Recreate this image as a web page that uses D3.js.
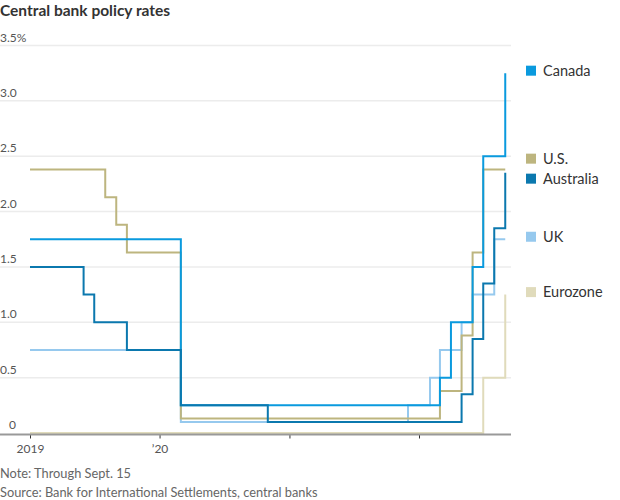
<!DOCTYPE html>
<html>
<head>
<meta charset="utf-8">
<script src="https://cdn.jsdelivr.net/npm/d3@7"></script>
<style>
	body { margin: 0; background: #fff; }
	text { font-family: Lato, "Open Sans", sans-serif; }
</style>
</head>
<body>
<div id="container"></div>
<script>
// Monthly change points, value in effect that month (step after)
const canada = [["2019-01", 1.75], ["2020-03", 0.25], ["2022-03", 0.5], ["2022-04", 1.0], ["2022-06", 1.5], ["2022-07", 2.5], ["2022-09", 3.25]]
const us = [["2019-01", 2.38], ["2019-08", 2.13], ["2019-09", 1.88], ["2019-10", 1.63], ["2020-03", 0.13], ["2022-03", 0.38], ["2022-05", 0.88], ["2022-06", 1.63], ["2022-07", 2.38], ["2022-09", 2.38]]
const australia = [["2019-01", 1.5], ["2019-06", 1.25], ["2019-07", 1.0], ["2019-10", 0.75], ["2020-03", 0.25], ["2020-11", 0.1], ["2022-05", 0.35], ["2022-06", 0.85], ["2022-07", 1.35], ["2022-08", 1.85], ["2022-09", 2.35]]
const uk = [["2019-01", 0.75], ["2020-03", 0.1], ["2021-12", 0.25], ["2022-02", 0.5], ["2022-03", 0.75], ["2022-05", 1.0], ["2022-06", 1.25], ["2022-08", 1.75], ["2022-09", 1.75]]
const eurozone = [["2019-01", 0], ["2022-07", 0.5], ["2022-09", 1.25]]

const seriesNames = ["Canada", "U.S.", "Australia", "UK", "Eurozone"]
const seriesData = [canada, us, australia, uk, eurozone]
const colors = ["#0a9ade", "#bdb57f", "#0b78ae", "#96c9ee", "#e0dbbb"]
// which one sits on top
const drawOrder = ["Eurozone", "UK", "U.S.", "Canada", "Australia"]

const yTicks = [0, 0.5, 1.0, 1.5, 2.0, 2.5, 3.0, 3.5]
const yTickLabels = ["0", "0.5", "1.0", "1.5", "2.0", "2.5", "3.0", "3.5%"]
const xTicks = ["2019-01-01", "2020-01-01", "2021-01-01", "2022-01-01"]
const xTickLabels = ["2019", "\u201920", "", ""]

const width = 620
const height = 500
const parseMonth = d3.timeParse("%Y-%m")
const parseDay = d3.timeParse("%Y-%m-%d")

const x = d3.scaleTime()
	.domain([parseDay("2019-01-01"), parseDay("2022-01-01")])
	.range([30, 419])

const y = d3.scaleLinear()
	.domain([0, 3.5])
	.range([433, 45.5])

const svg = d3.select("#container")
	.append("svg")
	.attr("width", width)
	.attr("height", height)

// title
svg.append("text")
	.attr("x", 0)
	.attr("y", 16)
	.style("font-size", "15.5px")
	.style("font-weight", "bold")
	.style("fill", "#333")
	.text("Central bank policy rates")

// gridlines + y labels
const yAxis = svg.append("g")
yAxis.selectAll("line")
	.data(yTicks.filter(d => d > 0))
	.join("line")
	.attr("x1", 0)
	.attr("x2", 511)
	.attr("y1", d => y(d))
	.attr("y2", d => y(d))
	.style("stroke", "#ececec")
	.style("stroke-width", 1.5)

yAxis.selectAll("text")
	.data(yTicks)
	.join("text")
	.attr("x", (d, i) => i === 0 ? 9 : 0)
	.attr("y", d => y(d) - 4)
	.style("font-size", "12px")
	.style("fill", "#555")
	.text((d, i) => yTickLabels[i])

// lines
const line = d3.line()
	.x(d => x(parseMonth(d[0])))
	.y(d => y(d[1]))
	.curve(d3.curveStepAfter)

svg.append("g")
	.selectAll("path")
	.data(drawOrder)
	.join("path")
	.attr("d", name => line(seriesData[seriesNames.indexOf(name)]))
	.style("fill", "none")
	.style("stroke", name => colors[seriesNames.indexOf(name)])
	.style("stroke-width", 2)

// x axis
const xAxis = d3.axisBottom(x)
	.tickValues(xTicks.map(parseDay))
	.tickFormat((d, i) => xTickLabels[i])
	.tickSize(4)
	.tickPadding(6)

const xg = svg.append("g")
	.attr("transform", "translate(0,434.5)")
	.call(xAxis)
xg.select(".domain").remove()
xg.selectAll(".tick line").style("stroke", "#333")
xg.selectAll(".tick text")
	.style("font-size", "12px")
	.style("fill", "#555")
	.style("font-family", "Lato, sans-serif")
xg.append("line")
	.attr("x1", 0)
	.attr("x2", 511)
	.style("stroke", "#999")
	.style("stroke-width", 2)

// legend, labels at line end, pushed apart when they collide
const labels = seriesNames.map((name, i) => {
	const d = seriesData[i]
	return { name, color: colors[i], pos: y(d[d.length - 1][1]) - 2.5 }
}).sort((a, b) => a.pos - b.pos)
for (let k = 0; k < 20; k++) {
	for (let i = 1; i < labels.length; i++) {
		const gap = labels[i].pos - labels[i - 1].pos
		if (gap < 20) {
			const shift = (20 - gap) / 2
			labels[i - 1].pos -= shift
			labels[i].pos += shift
		}
	}
}

const legend = svg.append("g")
	.selectAll("g")
	.data(labels)
	.join("g")
	.attr("transform", d => `translate(526,${d.pos})`)
legend.append("rect")
	.attr("y", -5)
	.attr("width", 10)
	.attr("height", 10)
	.style("fill", d => d.color)
legend.append("text")
	.attr("x", 17)
	.attr("dy", "0.35em")
	.style("font-size", "14.5px")
	.style("fill", "#333")
	.text(d => d.name)

// notes
svg.append("text")
	.attr("x", 0)
	.attr("y", 478)
	.style("font-size", "12.8px")
	.style("fill", "#666")
	.text("Note: Through Sept. 15")
svg.append("text")
	.attr("x", 0)
	.attr("y", 497)
	.style("font-size", "12.8px")
	.style("fill", "#666")
	.text("Source: Bank for International Settlements, central banks")
</script>
</body>
</html>
